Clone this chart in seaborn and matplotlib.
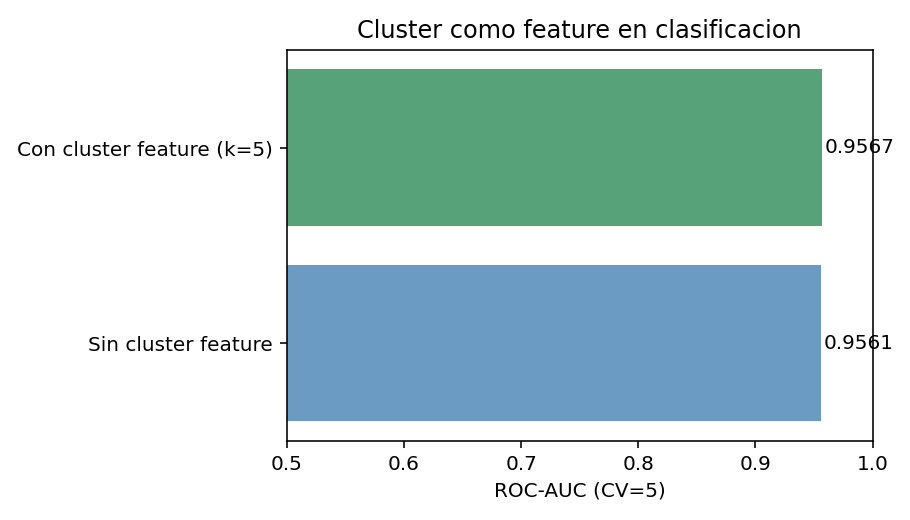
import matplotlib
matplotlib.use("Agg")
import matplotlib.pyplot as plt
import seaborn as sns
import pandas as pd

# data
modelos = ["Con cluster feature (k=5)", "Sin cluster feature"]
auc = [0.9567, 0.9561]
colores = ["seagreen", "steelblue"]

df = pd.DataFrame({"modelo": modelos, "auc": auc})

dpi = 144
fig = plt.figure(figsize=(910 / dpi, 520 / dpi), dpi=dpi)
ax = fig.add_axes([0.315, 0.152, 0.644, 0.752])

sns.barplot(data=df, x="auc", y="modelo", hue="modelo", palette=colores,
            order=modelos, alpha=0.8, saturation=1, legend=False, ax=ax, width=0.8)

for i, v in enumerate(auc):
    ax.text(v + 0.002, i, f"{v:.4f}", va="center", ha="left")

ax.set_xlim(0.5, 1.0)
ax.set_title("Cluster como feature en clasificacion")
ax.set_xlabel("ROC-AUC (CV=5)")
ax.set_ylabel("")

fig.savefig("out.png", dpi=dpi)
